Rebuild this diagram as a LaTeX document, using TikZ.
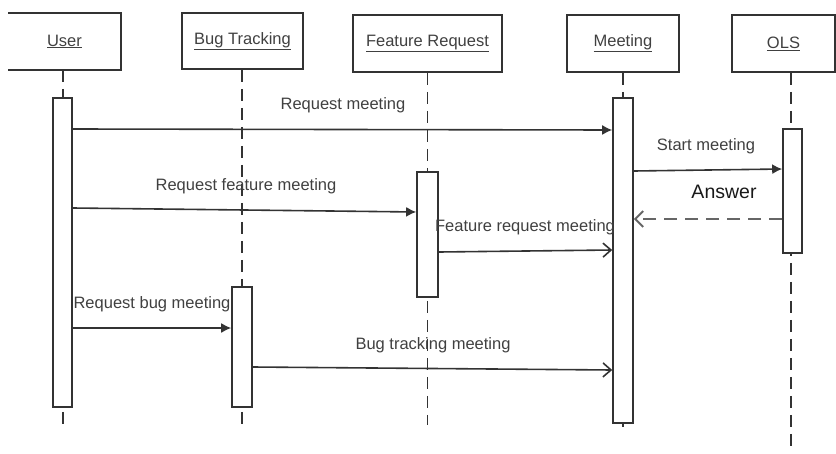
\documentclass[tikz,border=0pt]{standalone}
\usepackage{fontspec}
\setmainfont{Liberation Sans}
\usetikzlibrary{arrows.meta}
\begin{document}
\begin{tikzpicture}[x=1pt,y=-1pt,
  ink/.style={draw=black!80, line width=1.6pt},
  head/.style={ink, rectangle, inner sep=0pt, font=\fontsize{16.5}{18}\selectfont, text=black!75},
  act/.style={ink, fill=white, rectangle, inner sep=0pt},
  life/.style={draw=black!80, line width=1.6pt, dash pattern=on 12pt off 7pt},
  call/.style={ink, -{Latex[length=10pt,width=10pt]}},
  send/.style={ink, -{Straight Barb[length=8pt,width=14pt]}},
  reply/.style={draw=black!60, line width=2pt, dash pattern=on 13pt off 8pt, -{Straight Barb[length=8pt,width=16pt]}},
  msg/.style={font=\fontsize{16.5}{18}\selectfont, text=black!75, inner sep=0pt}
]
\useasboundingbox (0,0) rectangle (836,453);

% object headers
\node[head, draw=none, minimum width=111pt, minimum height=55pt] (user) at (64.5,41.5) {\underline{User}};
\draw[ink] (user.north west) -- (user.north east) -- (user.south east) -- (user.south west);
\node[head, minimum width=121pt, minimum height=56pt] (bug) at (242.5,41) {\underline{Bug Tracking}};
\node[head, minimum width=149pt, minimum height=57pt] (feat) at (427.5,43.5) {\underline{Feature Request}};
\node[head, minimum width=112pt, minimum height=57pt] (meet) at (623,43.5) {\underline{Meeting}};
\node[head, minimum width=103pt, minimum height=57pt] (ols) at (783.5,43.5) {\underline{OLS}};

% lifeline ends
\coordinate (uend) at (63,425);
\coordinate (bend) at (242,425);
\coordinate (fend) at (427.5,425);
\coordinate (mend) at (623,428);
\coordinate (oend) at (791,448);

% lifelines
\draw[life] (uend |- user.south) -- (uend);
\draw[life] (bend |- bug.south) -- (bend);
\draw[life] (fend |- feat.south) -- (fend);
\draw[life] (mend |- meet.south) -- (mend);
\draw[life] (oend |- ols.south) -- (oend);

% activation bars
\node[act, minimum width=19pt, minimum height=309pt] (uact) at (62.5,252.5) {};
\node[act, minimum width=20pt, minimum height=120pt] (bact) at (242,347) {};
\node[act, minimum width=21pt, minimum height=125pt] (fact) at (427.5,234.5) {};
\node[act, minimum width=20pt, minimum height=325pt] (mact) at (623,260.5) {};
\node[act, minimum width=19pt, minimum height=124pt] (oact) at (792.5,191) {};

% messages
\draw[call] (uact.east |- 0,129) -- (mact.west |- 0,130);
\node[msg] (l1) at (343,105) {Request meeting};

\draw[call] (mact.east |- 0,171) -- (oact.west |- 0,169);
\node[msg] (l2) at (706,146) {Start meeting};

\draw[call] (uact.east |- 0,208) -- (fact.west |- 0,212);
\node[msg] (l3) at (246,186) {Request feature meeting};

\draw[reply] (oact.west |- 0,219) -- (mact.east |- 0,219);
\node[msg, font=\fontsize{19.5}{21}\selectfont, text=black!90] (l4) at (724,192) {Answer};

\draw[send] (fact.east |- 0,252) -- (mact.west |- 0,250);
\node[msg] (l5) at (525,227) {Feature request meeting};

\draw[call] (uact.east |- 0,328) -- (bact.west |- 0,328);
\node[msg] (l6) at (152,304) {Request bug meeting};

\draw[send] (bact.east |- 0,367) -- (mact.west |- 0,370);
\node[msg] (l7) at (433,345) {Bug tracking meeting};
\end{tikzpicture}
\end{document}
